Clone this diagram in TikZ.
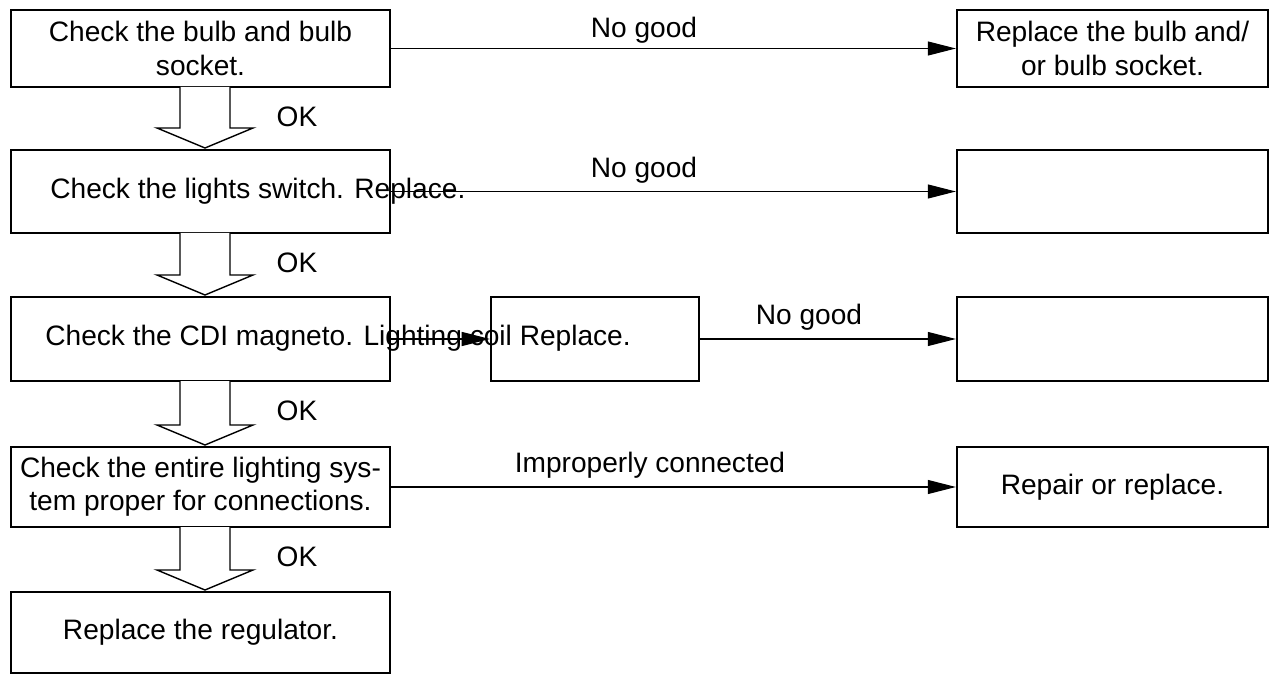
\documentclass[tikz,border=0pt]{standalone}
\usepackage{fontspec}
\setmainfont{Liberation Sans}
\usetikzlibrary{arrows.meta}
\begin{document}
\begin{tikzpicture}[x=0.02cm,y=-0.02cm,
  box/.style={draw,line width=1.3pt,inner sep=0pt,align=center,font=\fontsize{16}{19}\selectfont},
  lbl/.style={font=\fontsize{16}{19}\selectfont,inner sep=0pt},
  con/.style={line width=0.6pt,-{Triangle[length=16pt,width=8pt]}},
  hol/.style={draw,line width=0.8pt,fill=white}]
\useasboundingbox (0,0) rectangle (1276,679);
\def\bx#1#2#3#4#5#6{\node[box,minimum width={(#4-#2)*0.02cm},minimum height={(#5-#3)*0.02cm}] (#1) at ({(#2+#4)/2},{(#3+#5)/2}) {#6};}
\bx{b1}{11}{10}{390}{87}{Check the bulb and bulb\\socket.}
\bx{b2}{11}{150}{390}{233}{}
\bx{b3}{11}{297}{390}{381}{}
\bx{b4}{11}{447}{390}{527}{Check the entire lighting sys-\\tem proper for connections.}
\bx{b5}{11}{592}{390}{673}{Replace the regulator.}
\bx{r1}{957}{10}{1268}{87}{Replace the bulb and/\\or bulb socket.}
\bx{r2}{957}{150}{1268}{233}{}
\bx{r3}{957}{297}{1268}{381}{}
\bx{r4}{957}{447}{1268}{527}{Repair or replace.}
\bx{m3}{491}{297}{699}{381}{}
\node[lbl,anchor=west] (t2) at (50,191) {Check the lights switch. Replace.};
\node[lbl,anchor=west] (t3) at (45,338) {Check the CDI magneto. Lighting coil Replace.};
\draw[con] (b1.east) -- (r1.west);
\draw[con] (b2.east) -- (r2.west);
\draw[con] (b3.east) -- (m3.west);
\draw[con] (m3.east) -- (r3.west);
\draw[con] (b4.east) -- (r4.west);
\node[lbl] (n1) at (644,30) {No good};
\node[lbl] (n2) at (644,170) {No good};
\node[lbl] (n3) at (809,317) {No good};
\node[lbl] (n4) at (650,465) {Improperly connected};
\foreach \a/\b/\n in {87/148/1,233/295/2,381/445/3,527/590/4}{
  \draw[hol] (180,\a) -- (180,{\b-20}) -- (157,{\b-20}) -- (205,\b) -- (253,{\b-20}) -- (230,{\b-20}) -- (230,\a);
  \node[lbl] (ok\n) at (297,{\a+30}) {OK};
}
\end{tikzpicture}
\end{document}
